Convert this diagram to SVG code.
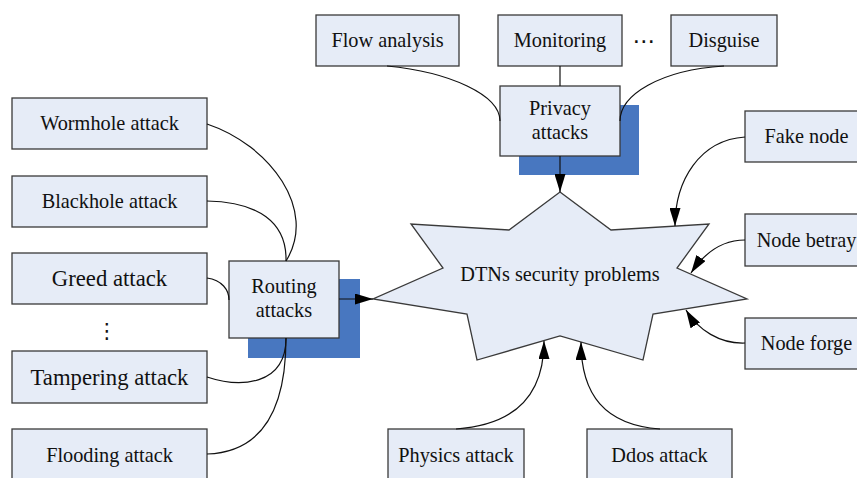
<svg xmlns="http://www.w3.org/2000/svg" width="857" height="478" viewBox="0 0 857 478">
<defs>
<style>
.box{fill:#E6ECF7;stroke:#3a3a3a;stroke-width:1.3}
.sh{fill:#4877C0}
.t{font-family:"Liberation Serif","Times New Roman",serif;font-size:20.3px;fill:#111;text-anchor:middle}
.tb{font-size:22.7px}
.c{fill:none;stroke:#111;stroke-width:1.2}
.d{font-family:"DejaVu Serif","DejaVu Sans",serif;fill:#111;text-anchor:middle}
</style>
<marker id="ah" viewBox="0 0 18 11" refX="18" refY="5.5" markerWidth="18" markerHeight="11" orient="auto" markerUnits="userSpaceOnUse"><path d="M0,0 L18,5.5 L0,11 z" fill="#000"/></marker>
</defs>
<rect width="857" height="478" fill="#fff"/>

<g id="star">
<polygon class="box" points="560,192 611,230 709,224 677,268 747,299 653,314 643,360 560,336 477,360 467,314 373,299 443,268 411,224 509,230"/>
<text class="t" x="560" y="281">DTNs security problems</text>
</g>

<g id="flow-analysis"><rect class="box" x="316" y="15" width="143" height="51"/><text class="t" x="387.5" y="47">Flow analysis</text></g>
<g id="monitoring"><rect class="box" x="498" y="15" width="124" height="51"/><text class="t" x="560" y="47">Monitoring</text></g>
<text class="d" x="644" y="49" font-size="23">⋯</text>
<g id="disguise"><rect class="box" x="671" y="15" width="106" height="51"/><text class="t" x="724" y="47">Disguise</text></g>

<g id="privacy-attacks">
<rect class="sh" x="519" y="105" width="120" height="70"/>
<rect class="box" x="500" y="86" width="120" height="70"/>
<text class="t" x="560" y="115">Privacy</text>
<text class="t" x="560" y="139">attacks</text>
</g>

<g id="fake-node"><rect class="box" x="745" y="111" width="125" height="51"/><text class="t" x="806.5" y="143">Fake node</text></g>
<g id="node-betray"><rect class="box" x="745" y="214" width="125" height="52"/><text class="t" x="806.5" y="246.6">Node betray</text></g>
<g id="node-forge"><rect class="box" x="745" y="318" width="125" height="51"/><text class="t" x="806.5" y="350">Node forge</text></g>

<g id="wormhole-attack"><rect class="box" x="12" y="98" width="195" height="51"/><text class="t" x="109.5" y="130">Wormhole attack</text></g>
<g id="blackhole-attack"><rect class="box" x="12" y="176" width="195" height="51"/><text class="t" x="109.5" y="208">Blackhole attack</text></g>
<g id="greed-attack"><rect class="box" x="12" y="253" width="195" height="51"/><text class="t tb" x="109.5" y="286">Greed attack</text></g>
<text class="d" x="107" y="338" font-size="21">⋮</text>
<g id="tampering-attack"><rect class="box" x="12" y="351" width="195" height="52"/><text class="t tb" x="109.5" y="384.5">Tampering attack</text></g>
<g id="flooding-attack"><rect class="box" x="12" y="429" width="195" height="52"/><text class="t" x="109.5" y="461.5">Flooding attack</text></g>

<g id="routing-attacks">
<rect class="sh" x="248" y="279" width="112" height="79"/>
<rect class="box" x="229" y="261" width="110" height="77"/>
<text class="t" x="284" y="293">Routing</text>
<text class="t" x="284" y="317">attacks</text>
</g>

<g id="physics-attack"><rect class="box" x="388" y="429" width="136" height="52"/><text class="t" x="456" y="461.5">Physics attack</text></g>
<g id="ddos-attack"><rect class="box" x="587" y="429" width="145" height="52"/><text class="t" x="659.5" y="461.5">Ddos attack</text></g>

<g id="connectors">
<path class="c" d="M560,66 L560,86"/>
<path class="c" d="M387,66 C450,72 500,95 500,121"/>
<path class="c" d="M724,66 C660,70 620,95 620,121"/>
<path class="c" d="M560,156 L560,192" marker-end="url(#ah)"/>
<path class="c" d="M339,299 L373,299" marker-end="url(#ah)"/>
<path class="c" d="M207,124 C270,145 318,210 286,261"/>
<path class="c" d="M207,201 C258,202 287,222 286,261"/>
<path class="c" d="M207,278 C222,280 229,290 229,300"/>
<path class="c" d="M207,377 C240,388 286,386 286,338"/>
<path class="c" d="M207,454 C262,452 286,410 286,338"/>
<path class="c" d="M745,137 C700,140 675,180 675,226" marker-end="url(#ah)"/>
<path class="c" d="M745,240 C722,240 705,252 691,273" marker-end="url(#ah)"/>
<path class="c" d="M745,343 C720,344 698,330 686,310" marker-end="url(#ah)"/>
<path class="c" d="M456,429 C515,425 544,395 544,341" marker-end="url(#ah)"/>
<path class="c" d="M660,429 C605,425 581,395 581,342" marker-end="url(#ah)"/>
</g>
</svg>
